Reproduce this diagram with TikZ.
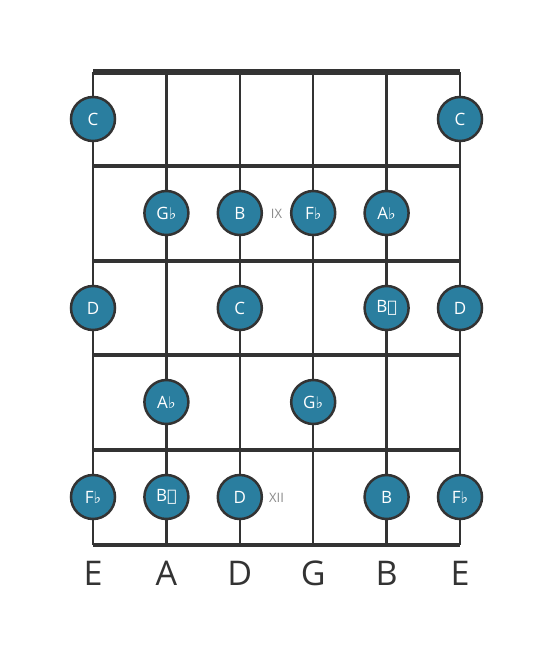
\documentclass[tikz,border=0pt]{standalone}
\usepackage{fontspec}
\setmainfont{Open Sans}
\newfontfamily\symfont{DejaVu Sans}
\definecolor{notefill}{HTML}{2A7E9F}
\definecolor{boardline}{HTML}{333333}
\definecolor{fretmark}{HTML}{8A8A8A}
\newcommand{\flt}{{\symfont\fontsize{16}{16}\selectfont ♭}}
\newcommand{\dflt}{{\symfont\fontsize{16}{16}\selectfont 𝄫}}
\tikzset{
  note/.style={circle, draw=boardline, line width=2.5pt, fill=notefill, minimum size=44pt, inner sep=0pt, text=white, font=\fontsize{17}{17}\selectfont},
  fretline/.style={draw=boardline, line width=4.5pt},
  stringline/.style={draw=boardline, line width=2.5pt},
  tuning/.style={text=boardline, font=\fontsize{34}{34}\selectfont},
  position/.style={text=fretmark, font=\fontsize{13}{13}\selectfont}
}
\begin{document}
\begin{tikzpicture}[x=1pt, y=-1pt]
  \useasboundingbox (0,0) rectangle (553,656);
  % strings
  \coordinate (S1t) at (93,72);    \coordinate (S1b) at (93,545);
  \coordinate (S2t) at (166.4,72); \coordinate (S2b) at (166.4,545);
  \coordinate (S3t) at (239.8,72); \coordinate (S3b) at (239.8,545);
  \coordinate (S4t) at (313.2,72); \coordinate (S4b) at (313.2,545);
  \coordinate (S5t) at (386.6,72); \coordinate (S5b) at (386.6,545);
  \coordinate (S6t) at (460,72);   \coordinate (S6b) at (460,545);
  \draw[stringline] (S1t) -- (S1b);
  \draw[stringline] (S2t) -- (S2b);
  \draw[stringline] (S3t) -- (S3b);
  \draw[stringline] (S4t) -- (S4b);
  \draw[stringline] (S5t) -- (S5b);
  \draw[stringline] (S6t) -- (S6b);
  % frets
  \draw[fretline, line width=5.5pt] (S1t) -- (S6t);
  \draw[fretline] (93,166) -- (460,166);
  \draw[fretline] (93,261) -- (460,261);
  \draw[fretline] (93,355) -- (460,355);
  \draw[fretline] (93,450) -- (460,450);
  \draw[fretline] (S1b) -- (S6b);
  % notes
  \node[note] (N11) at (93,119) {C};
  \node[note] (N16) at (460,119) {C};
  \node[note] (N22) at (166.4,213) {G\flt};
  \node[note] (N23) at (239.8,213) {B};
  \node[note] (N24) at (313.2,213) {F\flt};
  \node[note] (N25) at (386.6,213) {A\flt};
  \node[note] (N31) at (93,308) {D};
  \node[note] (N33) at (239.8,308) {C};
  \node[note] (N35) at (386.6,308) {B\dflt};
  \node[note] (N36) at (460,308) {D};
  \node[note] (N42) at (166.4,402) {A\flt};
  \node[note] (N44) at (313.2,402) {G\flt};
  \node[note] (N51) at (93,497) {F\flt};
  \node[note] (N52) at (166.4,497) {B\dflt};
  \node[note] (N53) at (239.8,497) {D};
  \node[note] (N55) at (386.6,497) {B};
  \node[note] (N56) at (460,497) {F\flt};
  % position marks
  \node[position] (P9) at (276.5,214) {IX};
  \node[position] (P12) at (276.5,498) {XII};
  % tuning
  \node[tuning] (T1) at (93,573) {E};
  \node[tuning] (T2) at (166.4,573) {A};
  \node[tuning] (T3) at (239.8,573) {D};
  \node[tuning] (T4) at (313.2,573) {G};
  \node[tuning] (T5) at (386.6,573) {B};
  \node[tuning] (T6) at (460,573) {E};
\end{tikzpicture}
\end{document}
